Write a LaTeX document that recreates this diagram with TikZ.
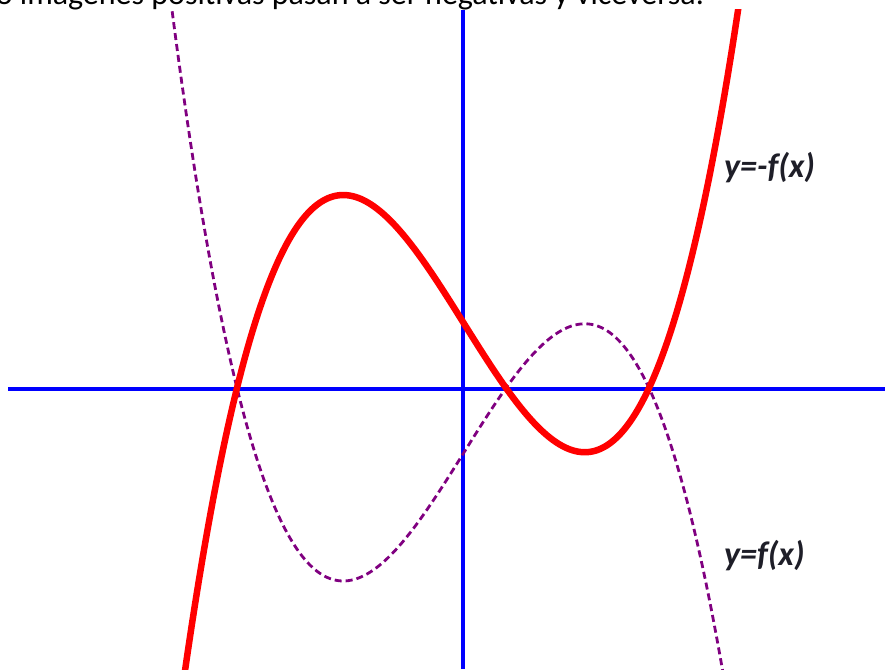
\documentclass[tikz,border=0pt]{standalone}
\usepackage{fontspec}
\setmainfont{Carlito}
\begin{document}
\begin{tikzpicture}[x=1pt,y=-1pt,
  axis/.style={draw={rgb,255:red,0;green,0;blue,255},line width=3.5pt},
  negcurve/.style={draw={rgb,255:red,255;green,0;blue,0},line width=6.5pt},
  poscurve/.style={draw={rgb,255:red,128;green,0;blue,128},line width=2.8pt,dash pattern=on 7pt off 4pt},
  lbl/.style={font=\fontsize{34}{34}\selectfont\bfseries\itshape,text={rgb,255:red,30;green,30;blue,40},inner sep=0pt,anchor=base west}]
\useasboundingbox (0,0) rectangle (885,669);
\begin{scope}
\clip (0,0) rectangle (885,669);
\node[font=\fontsize{32}{32}\selectfont,anchor=base east,inner sep=0pt] (toptext) at (704,5) {o imágenes positivas pasan a ser negativas y viceversa.};
\end{scope}
\coordinate (xl) at (8,389);
\coordinate (xr) at (885,389);
\coordinate (yt) at (463,10);
\coordinate (yb) at (463,669);
\draw[axis] (xl) -- (xr);
\draw[axis] (yt) -- (yb);
\begin{scope}
\clip (0,10) rectangle (885,669);
\draw[poscurve] plot[domain=-2.95:2.7,samples=220,smooth] ({463+100*\x},{388+36.5*(\x+2.26)*(\x-0.43)*(\x-1.86)});
\draw[negcurve] plot[domain=-2.85:2.8,samples=220,smooth] ({463+100*\x},{388-36.5*(\x+2.26)*(\x-0.43)*(\x-1.86)});
\end{scope}
\node[lbl] (lneg) at (724,177) {y=-f(x)};
\node[lbl] (lpos) at (724,565) {y=f(x)};
\end{tikzpicture}
\end{document}
